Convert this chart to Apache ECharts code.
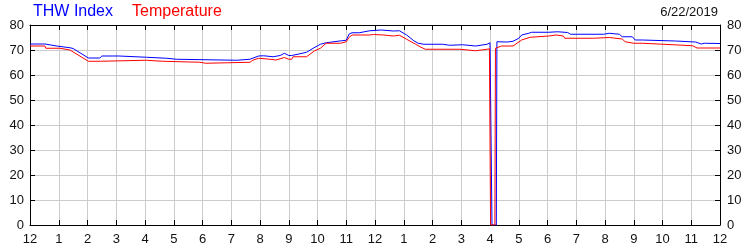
<!DOCTYPE html>
<html><head><meta charset="utf-8">
<script src="https://cdn.jsdelivr.net/npm/echarts@6/dist/echarts.min.js"></script>
<style>html,body{margin:0;padding:0;background:#fff}#c{width:750px;height:250px}</style>
</head><body><div id="c"></div>
<script>
var xLabels = ['12','1','2','3','4','5','6','7','8','9','10','11','12','1','2','3','4','5','6','7','8','9','10','11','12'];
var yTicks = [0,10,20,30,40,50,60,70,80];
var dateText = '6/22/2019';

var thwTimes = [0,0.52,0.55,0.93,0.96,1.39,1.42,1.5,2.03,2.43,2.5,3.1,3.14,4.05,4.09,4.75,4.79,5.1,5.14,7.19,7.23,7.65,7.7,7.95,8,8.12,8.15,8.46,8.5,8.7,8.85,9,9.1,9.15,9.39,9.45,9.62,9.85,10.1,10.3,10.35,10.84,11,11.1,11.2,11.45,11.5,11.82,11.85,12.22,12.26,12.64,12.68,12.85,13.1,13.35,13.5,13.7,14.35,14.4,14.6,14.65,15.05,15.1,15.5,15.55,15.9,16.0,16.05,16.07,16.22,16.24,16.6,16.8,17.0,17.1,17.35,17.45,18.05,18.1,18.35,18.4,18.7,18.8,19.95,20.0,20.15,20.2,20.5,20.6,20.95,21.05,21.3,21.35,22.45,22.5,23.15,23.35,23.45,24];
var thwValues = [72.4,72.4,71.6,71.6,70.9,70.9,71.2,70.6,66.8,66.8,67.6,67.6,67.1,67.1,66.7,66.7,66.3,66.3,65.9,65.9,66.3,66.3,67.1,67.6,67.7,67.7,67.3,67.3,67.8,67.8,68.7,67.8,67.8,68.5,68.5,69.1,69.1,70.7,72.3,72.9,73.7,73.7,73.9,76.4,76.9,76.9,77.7,77.7,78,78,77.6,77.6,77.7,77.7,76,73.7,72.7,72.3,72.3,71.9,71.9,72.1,72.1,71.6,71.6,72.3,72.3,72.9,72.9,0,0,73.3,73.2,73.5,74.7,76,76.7,77.1,77.1,77.3,77.3,77,77,76.3,76.3,76.7,76.7,76.3,76.3,75.3,75.3,74,74,73.6,73.6,73.2,73.2,72.4,72.7,72.6];

var tempTimes = [0,0.52,0.55,1.04,1.08,1.39,1.45,2.03,2.45,2.5,4.05,4.09,4.6,4.64,5.9,5.95,6.12,6.16,7.65,7.75,7.95,8.0,8.35,8.4,8.55,8.6,8.85,9.0,9.1,9.15,9.62,9.9,10.1,10.3,10.8,11.0,11.1,11.2,11.8,11.85,11.95,12.3,12.35,12.64,12.68,12.85,13.1,13.4,13.6,13.75,14.95,15.0,15.5,15.55,15.9,15.98,16.0,16.02,16.17,16.19,16.4,16.8,17.1,17.4,17.45,18.05,18.1,18.3,18.35,18.55,18.6,19.6,19.65,20.15,20.2,20.6,20.7,21.0,21.3,21.35,22.55,22.6,23.05,23.2,24];
var tempValues = [71.6,71.6,70.7,70.7,70.0,70.0,69.7,65.5,65.5,65.9,65.9,65.5,65.5,65.1,65.1,64.7,64.7,65.1,65.1,65.9,66.7,66.3,66.3,66.0,66.0,66.8,67.0,66.3,66.3,67.3,67.3,69.7,70.7,72.7,72.7,73.3,75.1,76.0,76.0,76.5,76.2,76.0,75.6,75.6,75.9,75.9,74.3,72.4,71.1,70.3,70.3,69.7,69.7,70.3,70.3,70.5,70.5,0,0,70.7,71.6,71.6,74.0,75.1,75.6,75.6,76.0,76.0,75.6,75.6,74.7,74.7,75.0,75.0,74.4,74.4,73.3,72.7,72.7,72.0,72.0,71.7,71.7,70.8,70.8];

function pairs(t, v){ return t.map(function(x,i){ return [x, v[i]]; }); }

var font = 'Liberation Sans, Arial, sans-serif';
var chart = echarts.init(document.getElementById('c'), null, {renderer:'canvas'});
var axisCommon = {
  axisLine:{show:true, onZero:false, lineStyle:{color:'#000', width:1}},
  axisTick:{show:true, inside:true, length:5, lineStyle:{color:'#000'}}
};
chart.setOption({
  animation:false,
  backgroundColor:'#fff',
  grid:{left:30, right:30, top:25, bottom:25, containLabel:false},
  legend:{
    left:28, top:4, itemWidth:0, itemHeight:0, itemGap:14, icon:'rect', padding:0,
    selectedMode:false,
    textStyle:{fontFamily:font, fontSize:16},
    data:[{name:'THW Index', textStyle:{color:'#0000ff'}},{name:'Temperature', textStyle:{color:'#ff0000'}}]
  },
  graphic:[{type:'text', right:32, top:6, style:{text:dateText, font:'13px '+font, fill:'#111'}}],
  xAxis:[
    Object.assign({type:'value', position:'bottom', min:0, max:24, interval:1,
      axisLabel:{color:'#111', fontFamily:font, fontSize:13, margin:8, showMinLabel:true, showMaxLabel:true,
        formatter:function(v){ return xLabels[Math.round(v)]; }},
      splitLine:{show:true, lineStyle:{color:'#cccccc', width:1}}}, axisCommon),
    Object.assign({type:'value', position:'top', min:0, max:24, interval:1,
      axisLabel:{show:false}, splitLine:{show:false}}, axisCommon)
  ],
  yAxis:[
    Object.assign({type:'value', position:'left', min:0, max:80, interval:10,
      axisLabel:{color:'#111', fontFamily:font, fontSize:13, margin:6,
        formatter:function(v){ return yTicks.indexOf(v) >= 0 ? String(v) : ''; }},
      splitLine:{show:true, lineStyle:{color:'#cccccc', width:1}}}, axisCommon),
    Object.assign({type:'value', position:'right', min:0, max:80, interval:10,
      axisLabel:{color:'#111', fontFamily:font, fontSize:13, margin:7},
      splitLine:{show:false}}, axisCommon)
  ],
  series:[
    {name:'THW Index', type:'line', showSymbol:false, symbol:'none', data:pairs(thwTimes, thwValues),
      lineStyle:{color:'#0000ff', width:1}, itemStyle:{color:'#0000ff'}, clip:true},
    {name:'Temperature', type:'line', showSymbol:false, symbol:'none', data:pairs(tempTimes, tempValues),
      lineStyle:{color:'#ff0000', width:1}, itemStyle:{color:'#ff0000'}, clip:true}
  ]
});
</script></body></html>
